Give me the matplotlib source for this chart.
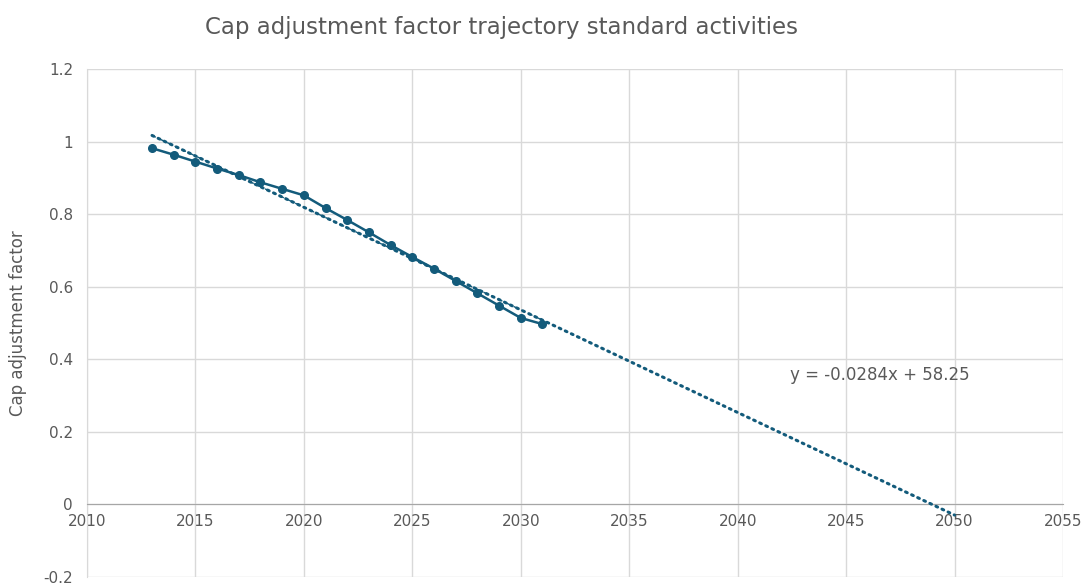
import numpy as np
import matplotlib
matplotlib.use('Agg')
import matplotlib.pyplot as plt

# data
years = [2013, 2014, 2015, 2016, 2017, 2018, 2019, 2020, 2021, 2022,
         2023, 2024, 2025, 2026, 2027, 2028, 2029, 2030, 2031]
caf = [0.982, 0.964, 0.945, 0.926, 0.908, 0.888, 0.870, 0.852, 0.817, 0.784,
       0.750, 0.715, 0.682, 0.650, 0.616, 0.582, 0.548, 0.514, 0.497]
trend_end = 2050
eq_label = 'y = -0.0284x + 58.25'
title = 'Cap adjustment factor trajectory standard activities'
ylabel = 'Cap adjustment factor'
xticks = [2010, 2015, 2020, 2025, 2030, 2035, 2040, 2045, 2050, 2055]
yticks = [-0.2, 0, 0.2, 0.4, 0.6, 0.8, 1, 1.2]
yticklabels = ['-0.2', '0', '0.2', '0.4', '0.6', '0.8', '1', '1.2']

plt.rcParams['font.family'] = ['DejaVu Sans']
txt = '#595959'
blue = '#135b7b'

fig = plt.figure(figsize=(10.86, 5.86), dpi=100)
ax = fig.add_axes([0.0801, 0.0155, 0.8987, 0.8665])

# linear trend
slope, icpt = np.polyfit(years, caf, 1)
tx = np.array([years[0], trend_end])
ax.plot(tx, slope * tx + icpt, color=blue, lw=2.2, linestyle=(0, (0.6, 1.6)),
        dash_capstyle='round', zorder=3)
tx2 = np.array([years[0], years[-1]])
ax.plot(tx2, slope * tx2 + icpt, color=blue, lw=1.0, linestyle=(0, (3, 3)), zorder=3)

ax.plot(years, caf, color=blue, lw=1.8, marker='o', ms=5.5, zorder=4)

ax.text(2042.4, 0.342, eq_label, fontsize=12, color=txt)

ax.set_xlim(2010, 2055)
ax.set_ylim(-0.2, 1.2)
ax.set_xticks(xticks)
ax.set_yticks(yticks)
ax.set_yticklabels(yticklabels)
ax.grid(True, color='#d9d9d9', lw=1)
ax.set_axisbelow(True)
ax.tick_params(length=0, labelsize=11, colors=txt, pad=10)
ax.tick_params(axis='x', pad=7)

for s in ['top', 'right']:
    ax.spines[s].set_visible(False)
ax.spines['left'].set_color('#d9d9d9')
ax.spines['bottom'].set_position(('data', 0))
ax.spines['bottom'].set_color('#a6a6a6')

ax.set_ylabel(ylabel, fontsize=12, color=txt, labelpad=12)
fig.text(0.4618, 0.953, title, fontsize=16.5, color=txt, ha='center', va='center')

fig.savefig('out.png', dpi=100)
